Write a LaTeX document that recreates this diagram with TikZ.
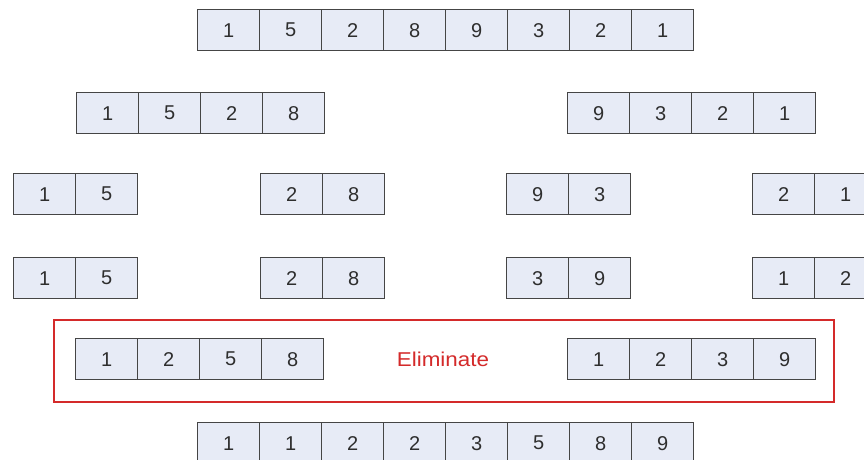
\documentclass[tikz,border=0pt]{standalone}
\usepackage{fontspec}
\setmainfont{Liberation Sans}
\definecolor{cellfill}{HTML}{E7EBF6}
\definecolor{celldraw}{HTML}{454545}
\definecolor{celltext}{HTML}{2E2E2E}
\definecolor{elimred}{HTML}{D42A2A}
\newcommand\cellrow[4]{%
  \foreach \v [count=\i] in {#4} {%
    \node[cellbox] (#1-\i) at ({#2+(\i-1)*62},#3) {\v};
  }%
}
\begin{document}
\begin{tikzpicture}[x=1pt,y=-1pt,
  cellbox/.style={draw=celldraw, line width=1.3pt, fill=cellfill, anchor=north west,
    minimum width=62pt, minimum height=41pt, inner sep=0pt, text=celltext,
    font=\fontsize{20}{20}\selectfont},
  elimbox/.style={draw=elimred, line width=2.2pt},
  elimtext/.style={text=elimred, font=\fontsize{20}{20}\selectfont, inner sep=0pt}]
\clip (0,0) rectangle (864,460);
\fill[white] (0,0) rectangle (864,460);
% row 1
\cellrow{a}{197}{9}{1,5,2,8,9,3,2,1}
% row 2
\cellrow{bl}{76}{92}{1,5,2,8}
\cellrow{br}{567}{92}{9,3,2,1}
% row 3
\cellrow{c1}{13}{173}{1,5}
\cellrow{c2}{260}{173}{2,8}
\cellrow{c3}{506}{173}{9,3}
\cellrow{c4}{752}{173}{2,1}
% row 4
\cellrow{d1}{13}{257}{1,5}
\cellrow{d2}{260}{257}{2,8}
\cellrow{d3}{506}{257}{3,9}
\cellrow{d4}{752}{257}{1,2}
% row 5
\node[elimbox, anchor=north west, minimum width=780pt, minimum height=82pt, inner sep=0pt] (elim) at (53,319) {};
\cellrow{el}{75}{338}{1,2,5,8}
\cellrow{er}{567}{338}{1,2,3,9}
\node[elimtext, xscale=1.12] (elimlabel) at (443,359) {Eliminate};
% row 6
\cellrow{f}{197}{422}{1,1,2,2,3,5,8,9}
\end{tikzpicture}
\end{document}
